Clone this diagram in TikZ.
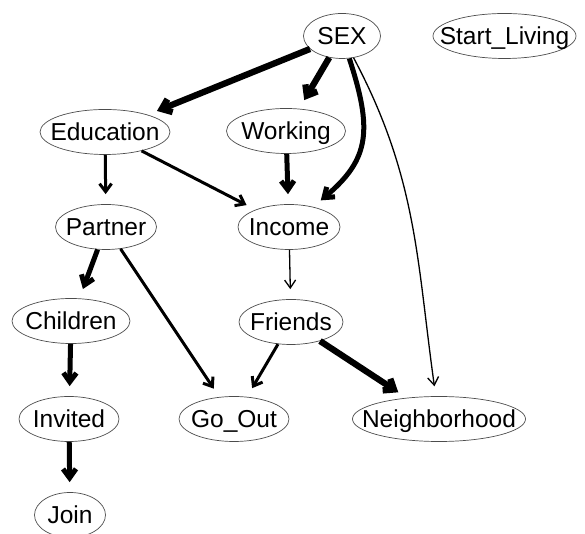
\documentclass[tikz,border=0pt]{standalone}
\usepackage{fontspec}
\setmainfont{Liberation Sans}
\usetikzlibrary{shapes.geometric,arrows.meta}
\begin{document}
\begin{tikzpicture}[x=1pt,y=1pt,
  vnode/.style={ellipse,draw=black!70,line width=0.7pt,inner sep=0pt,
    minimum height=45pt,text height=17pt,text depth=0pt,
    font=\fontsize{24.5}{26}\selectfont},
  arr/.style={shorten >=10pt,line join=round},
  wA/.style={arr,-{Straight Barb[length=8pt,width=11pt]},line width=1.3pt},
  wB/.style={arr,-{Straight Barb[length=8pt,width=12pt]},line width=3pt},
  wC/.style={arr,-{Straight Barb[length=9pt,width=13pt]},line width=5pt},
  wD/.style={arr,-{Straight Barb[length=9pt,width=14pt]},line width=6.3pt}]
\useasboundingbox (0,0) rectangle (585,534);
\node[vnode,minimum width=77pt]  (sex)   at (342,498) {\makebox[0pt]{SEX}};
\node[vnode,minimum width=143pt] (start) at (504.5,498) {\makebox[0pt]{Start\_Living}};
\node[vnode,minimum width=130pt] (edu)   at (105,402) {\makebox[0pt]{Education}};
\node[vnode,minimum width=119pt] (work)  at (286,403) {\makebox[0pt]{Working}};
\node[vnode,minimum width=102pt] (inc)   at (289,307) {\makebox[0pt]{Income}};
\node[vnode,minimum width=101pt] (part)  at (106,307) {\makebox[0pt]{Partner}};
\node[vnode,minimum width=118pt] (chil)  at (71,213)  {\makebox[0pt]{Children}};
\node[vnode,minimum width=104pt] (fri)   at (291,212) {\makebox[0pt]{Friends}};
\node[vnode,minimum width=100pt] (inv)   at (69,115)  {\makebox[0pt]{Invited}};
\node[vnode,minimum width=110pt] (go)    at (234,115) {\makebox[0pt]{Go\_Out}};
\node[vnode,minimum width=173pt] (nei)   at (439,115) {\makebox[0pt]{Neighborhood}};
\node[vnode,minimum width=71pt]  (join)  at (70,19)   {\makebox[0pt]{Join}};
\draw[wD] (sex) -- (edu);
\draw[wD] (sex) -- (work);
\draw[wC] (sex) to[out=-72,in=40,looseness=1.25] (inc);
\draw[wA] (sex) to[out=-62,in=98] (nei);
\draw[wB] (edu) -- (part);
\draw[wB] (edu) -- (inc);
\draw[wC] (work) -- (inc);
\draw[wA] (inc) -- (fri);
\draw[wC] (part) -- (chil);
\draw[wB] (part) -- (go);
\draw[wC] (chil) -- (inv);
\draw[wB] (fri) -- (go);
\draw[wD] (fri) -- (nei);
\draw[wC] (inv) -- (join);
\end{tikzpicture}
\end{document}
